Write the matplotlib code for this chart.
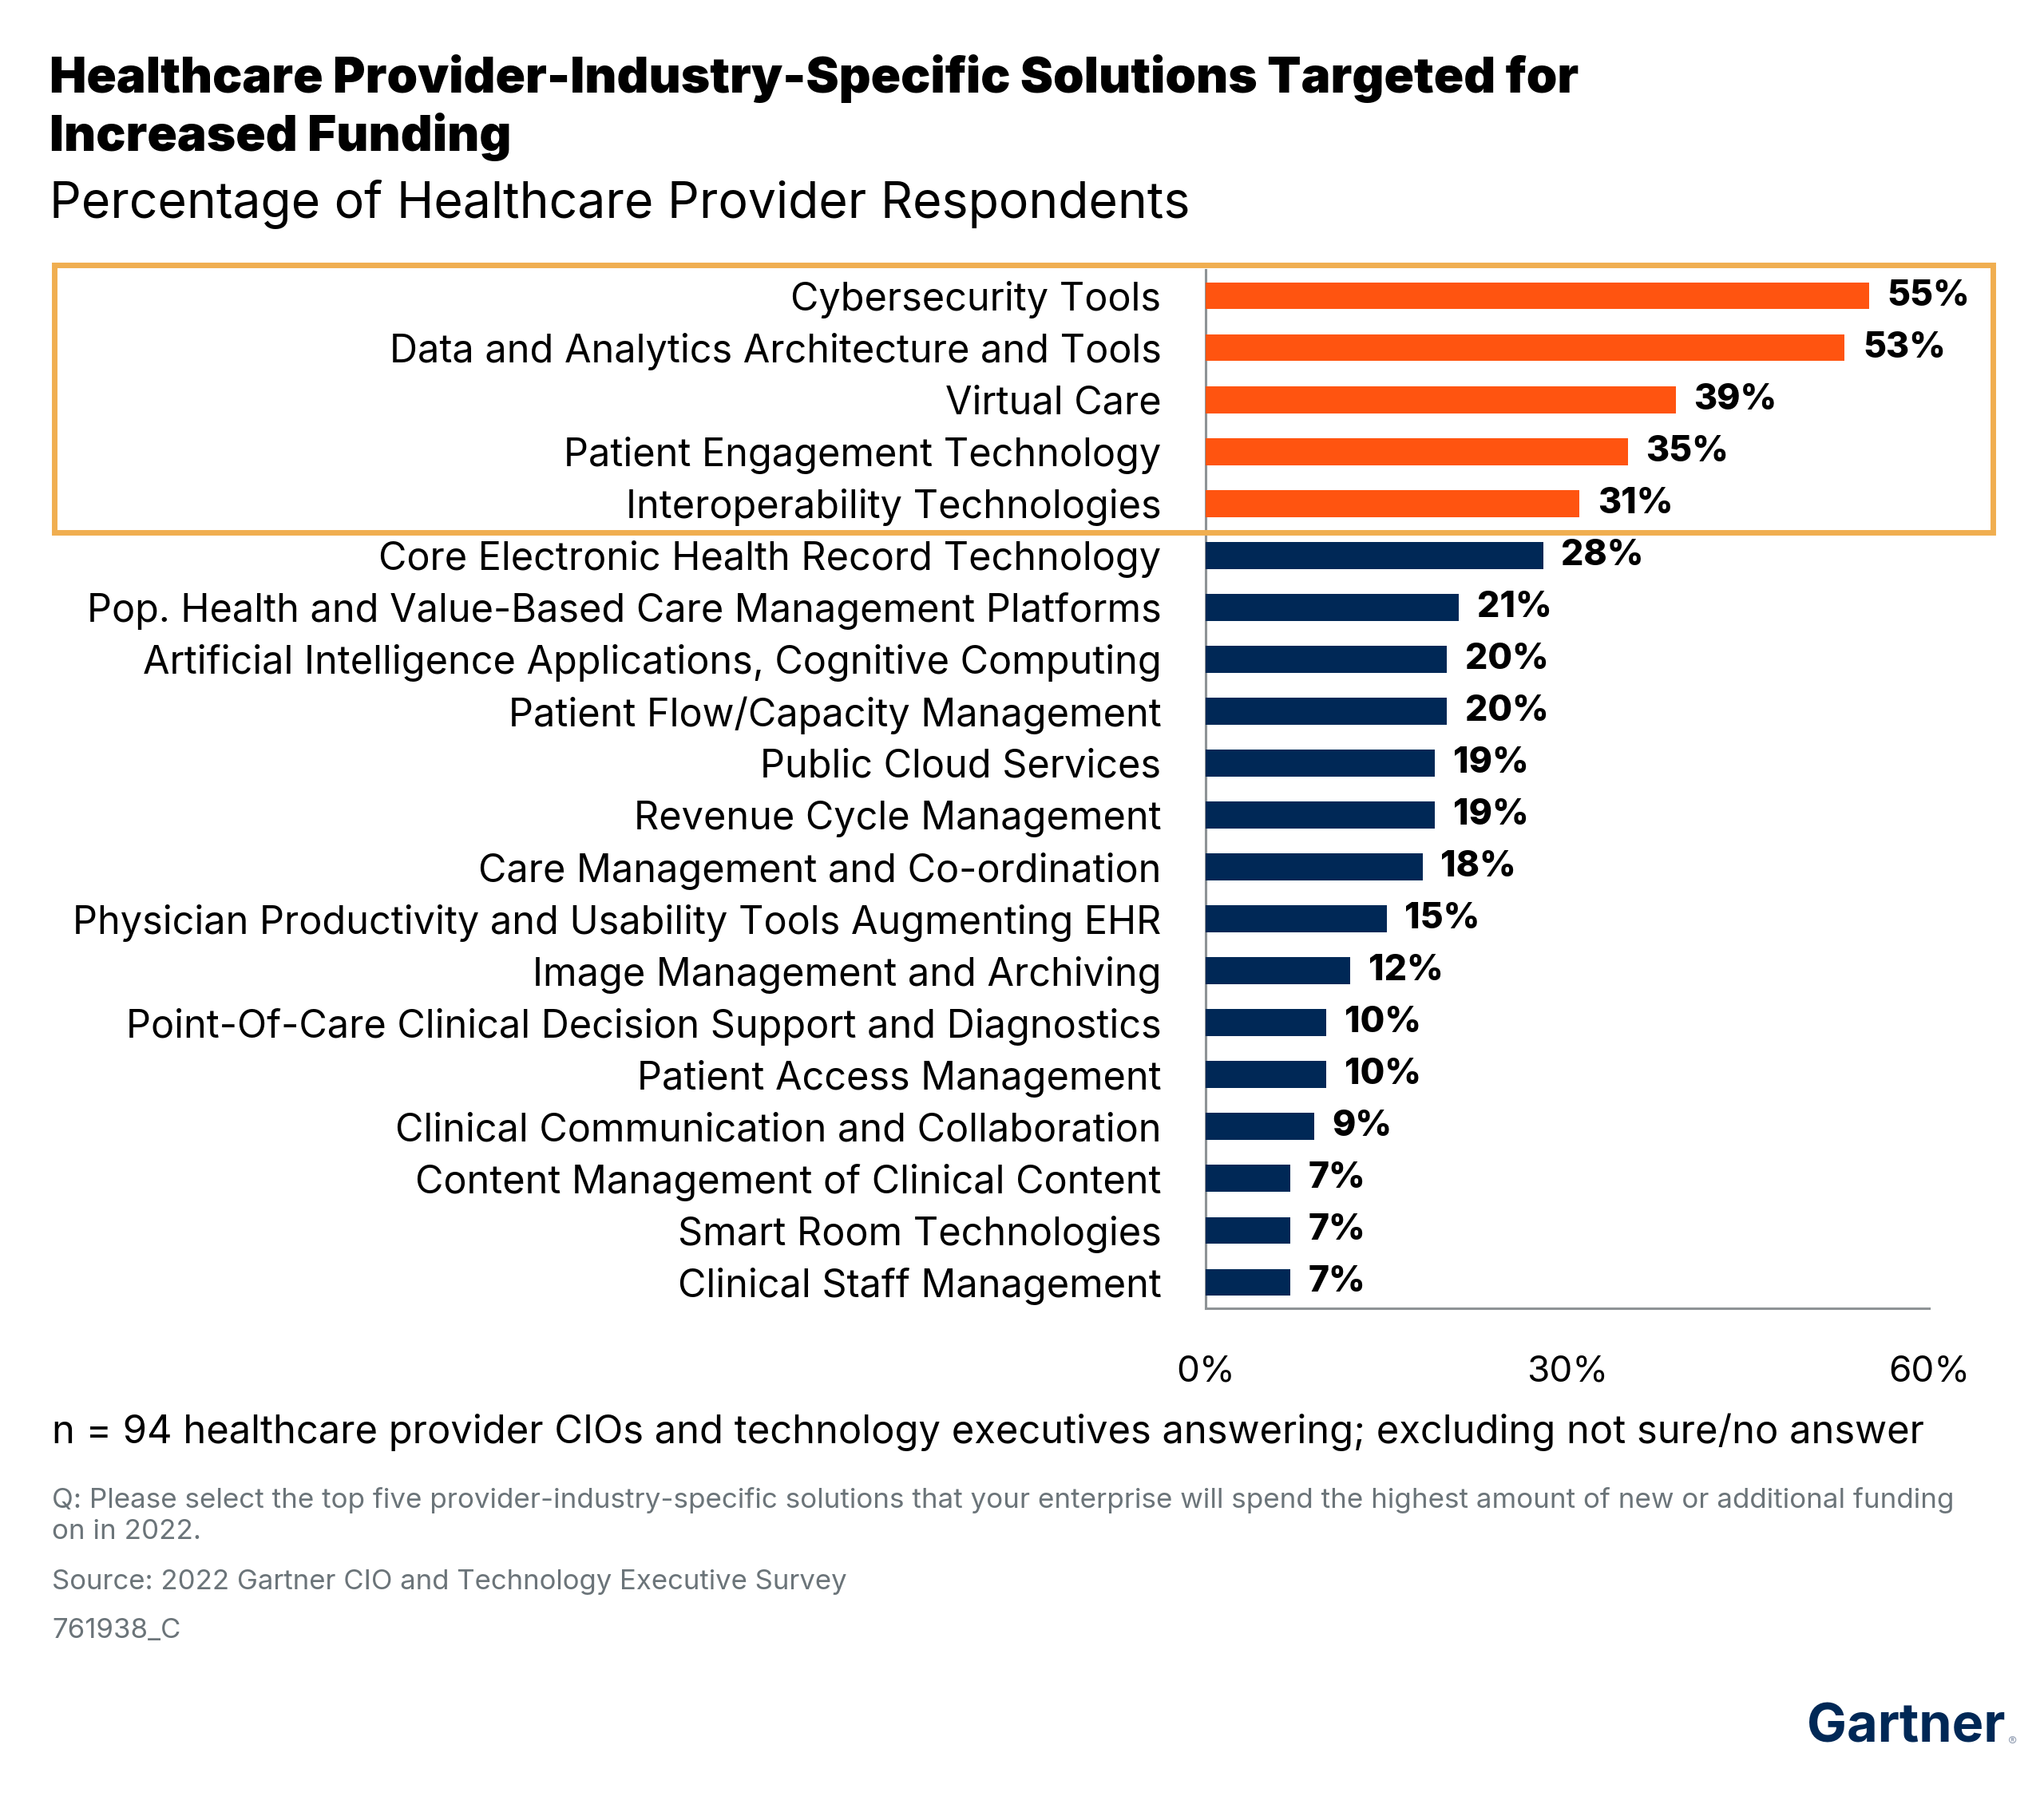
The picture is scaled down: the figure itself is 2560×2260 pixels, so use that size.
import matplotlib
matplotlib.use("Agg")
import matplotlib.pyplot as plt
from matplotlib.patches import Rectangle

plt.rcParams["font.family"] = ["Inter", "DejaVu Sans"]

# Dados
categorias = [
    "Cybersecurity Tools",
    "Data and Analytics Architecture and Tools",
    "Virtual Care",
    "Patient Engagement Technology",
    "Interoperability Technologies",
    "Core Electronic Health Record Technology",
    "Pop. Health and Value-Based Care Management Platforms",
    "Artificial Intelligence Applications, Cognitive Computing",
    "Patient Flow/Capacity Management",
    "Public Cloud Services",
    "Revenue Cycle Management",
    "Care Management and Co-ordination",
    "Physician Productivity and Usability Tools Augmenting EHR",
    "Image Management and Archiving",
    "Point-Of-Care Clinical Decision Support and Diagnostics",
    "Patient Access Management",
    "Clinical Communication and Collaboration",
    "Content Management of Clinical Content",
    "Smart Room Technologies",
    "Clinical Staff Management",
]
valores = [55, 53, 39, 35, 31, 28, 21, 20, 20, 19, 19, 18, 15, 12, 10, 10, 9, 7, 7, 7]
n_destaque = 5
xticks = [0, 30, 60]

# Cores
LARANJA = "#FF5410"
MARINHO = "#002856"
CAIXA = "#F0AE50"
CINZA_EIXO = "#8E9396"
CINZA_TXT = "#6B7479"

W, H = 2560, 2260
fig = plt.figure(figsize=(W / 100, H / 100), dpi=100)
fig.patch.set_facecolor("white")

ax = fig.add_axes([1510 / W, 1 - 1639 / H, (2416 - 1510) / W, (1639 - 338) / H])
y = list(range(len(categorias)))
cores = [LARANJA if i < n_destaque else MARINHO for i in y]
ax.barh(y, valores, height=0.52, color=cores, zorder=3)
ax.set_ylim(len(categorias) - 0.5, -0.5)
ax.set_xlim(0, 60)

for yi, v in zip(y, valores):
    ax.text(v + 1.5, yi, f"{v}%", va="center", ha="left", fontsize=32,
            fontweight="heavy", color="black")

ax.set_yticks(y)
ax.set_yticklabels(categorias, fontsize=35)
ax.set_xticks(xticks)
ax.set_xticklabels([f"{t}%" for t in xticks], fontsize=33)
ax.tick_params(axis="y", length=0, pad=40)
ax.tick_params(axis="x", length=0, pad=42)
for s in ["top", "right"]:
    ax.spines[s].set_visible(False)
for s in ["left", "bottom"]:
    ax.spines[s].set_color(CINZA_EIXO)
    ax.spines[s].set_linewidth(2.2)

# Caixa laranja em volta das cinco primeiras
fig.patches.append(Rectangle((68 / W, 1 - 667 / H), (2496 - 68) / W, (667 - 332) / H,
                             transform=fig.transFigure, fill=False,
                             edgecolor=CAIXA, linewidth=5, zorder=10))

# Titulos
fig.text(62 / W, 1 - 135 / H, "Healthcare Provider-Industry-Specific Solutions Targeted for\nIncreased Funding",
         fontsize=44.5, fontweight="black", va="center", ha="left", linespacing=1.25)
fig.text(62 / W, 1 - 255 / H, "Percentage of Healthcare Provider Respondents",
         fontsize=45, va="center", ha="left")

# Rodape
fig.text(65 / W, 1 - 1794 / H,
         "n = 94 healthcare provider CIOs and technology executives answering; excluding not sure/no answer",
         fontsize=35.2, va="center", ha="left")
fig.text(65 / W, 1 - 1899 / H,
         "Q: Please select the top five provider-industry-specific solutions that your enterprise will spend the highest amount of new or additional funding\non in 2022.",
         fontsize=25.2, va="center", ha="left", color=CINZA_TXT, linespacing=1.3)
fig.text(65 / W, 1 - 1982 / H, "Source: 2022 Gartner CIO and Technology Executive Survey",
         fontsize=25, va="center", ha="left", color=CINZA_TXT)
fig.text(65 / W, 1 - 2043 / H, "761938_C", fontsize=25, va="center", ha="left", color=CINZA_TXT)

fig.text(2512 / W, 1 - 2165 / H, "Gartner", fontsize=48, fontweight="bold",
         color=MARINHO, va="center", ha="right")
fig.text(2514 / W, 1 - 2182 / H, "®", fontsize=12, color="#9AA5B8",
         va="center", ha="left")

fig.savefig("out.png", dpi=100, facecolor="white")
